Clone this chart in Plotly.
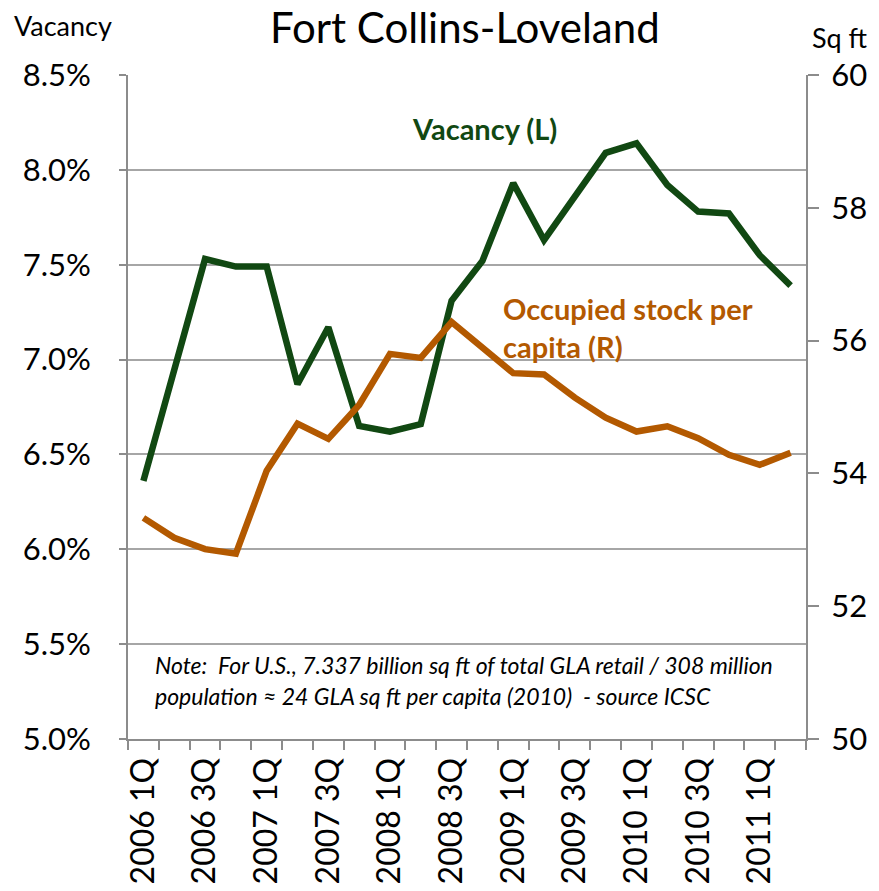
import plotly.graph_objects as go

quarters = ["2006 1Q", "2006 2Q", "2006 3Q", "2006 4Q",
            "2007 1Q", "2007 2Q", "2007 3Q", "2007 4Q",
            "2008 1Q", "2008 2Q", "2008 3Q", "2008 4Q",
            "2009 1Q", "2009 2Q", "2009 3Q", "2009 4Q",
            "2010 1Q", "2010 2Q", "2010 3Q", "2010 4Q",
            "2011 1Q", "2011 2Q"]

vacancy_pct = [6.36, 6.93, 7.53, 7.49, 7.49, 6.87, 7.17, 6.65, 6.62, 6.66, 7.31,
               7.52, 7.93, 7.63, 7.86, 8.09, 8.14, 7.92, 7.78, 7.77, 7.55, 7.39]

sqft_per_capita = [53.33, 53.03, 52.86, 52.79, 54.04, 54.75, 54.52, 55.03, 55.80,
                   55.74, 56.28, 55.90, 55.51, 55.49, 55.14, 54.84, 54.63, 54.71,
                   54.53, 54.28, 54.13, 54.31]

left_ticks = [5.0, 5.5, 6.0, 6.5, 7.0, 7.5, 8.0, 8.5]
right_ticks = [50, 52, 54, 56, 58, 60]

x_pos = list(range(len(quarters)))

GREEN = "#114812"
ORANGE = "#b35900"
GRID = "#a6a6a6"
AXIS = "#8c8c8c"
FONT = "Lato"

# page body has an 8px default margin; size the figure to fit the window
W, H = 863, 875
OFF = 8

fig = go.Figure()
fig.add_trace(go.Scatter(x=x_pos, y=vacancy_pct, mode="lines", name="Vacancy (L)",
                         line=dict(color=GREEN, width=6.5), yaxis="y"))
fig.add_trace(go.Scatter(x=x_pos, y=sqft_per_capita, mode="lines",
                         name="Occupied stock per capita (R)",
                         line=dict(color=ORANGE, width=6.5), yaxis="y2"))

fig.update_layout(
    width=W, height=H,
    margin=dict(l=128 - OFF, r=W - (806 - OFF), t=75 - OFF, b=H - (739 - OFF),
                autoexpand=False),
    paper_bgcolor="white", plot_bgcolor="white",
    showlegend=False,
    font=dict(family=FONT, color="black"),
    xaxis=dict(
        range=[-0.5, len(quarters) - 0.5],
        tickmode="array", tickvals=x_pos[::2], ticktext=quarters[::2],
        tickangle=-90, ticks="", showgrid=False,
        showline=True, linecolor=AXIS, linewidth=2,
        ticklabelstandoff=4,
        tickfont=dict(family=FONT, size=32, color="black"),
        minor=dict(tickmode="linear", tick0=-0.5, dtick=1, ticks="outside",
                   ticklen=9, tickwidth=1.5, tickcolor=AXIS, showgrid=False),
        zeroline=False, automargin=False,
    ),
    yaxis=dict(
        range=[5.0, 8.5], tickmode="array", tickvals=left_ticks,
        ticktext=[f"{v:.1f}%" for v in left_ticks],
        showgrid=True, gridcolor=GRID, gridwidth=1.5,
        showline=True, linecolor=AXIS, linewidth=2,
        ticks="outside", ticklen=7, tickcolor=AXIS, tickwidth=1.5,
        ticklabelstandoff=22,
        tickfont=dict(family=FONT, size=31, color="black"),
        zeroline=False, automargin=False,
    ),
    yaxis2=dict(
        range=[50, 60], tickmode="array", tickvals=right_ticks,
        overlaying="y", side="right", showgrid=False,
        showline=True, linecolor=AXIS, linewidth=2,
        ticks="outside", ticklen=11, tickcolor=AXIS, tickwidth=1.5,
        ticklabelstandoff=6,
        tickfont=dict(family=FONT, size=31, color="black"),
        zeroline=False, automargin=False,
    ),
)

annotations = [
    dict(text="Fort Collins-Loveland", x=(465 - 128) / 678, y=(739 - 27) / 664,
         xref="paper", yref="paper", showarrow=False, xanchor="center", yanchor="middle",
         font=dict(family=FONT, size=42, color="black")),
    dict(text="Vacancy", x=(63 - 128) / 678, y=(739 - 26) / 664, xref="paper", yref="paper",
         showarrow=False, xanchor="center", yanchor="middle",
         font=dict(family=FONT, size=27, color="black")),
    dict(text="Sq ft", x=(840 - 128) / 678, y=(739 - 38) / 664, xref="paper", yref="paper",
         showarrow=False, xanchor="center", yanchor="middle",
         font=dict(family=FONT, size=27, color="black")),
    dict(text="<b>Vacancy (L)</b>", x=(484 - 128) / 678, y=(739 - 128) / 664,
         xref="paper", yref="paper", showarrow=False, xanchor="center", yanchor="middle",
         font=dict(family=FONT, size=29, color=GREEN)),
    dict(text="<b>Occupied stock per</b>", x=(501 - 128) / 678, y=(739 - 308) / 664,
         xref="paper", yref="paper", showarrow=False, xanchor="left", yanchor="middle",
         font=dict(family=FONT, size=29, color=ORANGE)),
    dict(text="<b>capita (R)</b>", x=(501 - 128) / 678, y=(739 - 346) / 664,
         xref="paper", yref="paper", showarrow=False, xanchor="left", yanchor="middle",
         font=dict(family=FONT, size=29, color=ORANGE)),
    dict(text="<i>Note:  For U.S., 7.337 billion sq ft of total GLA retail / 308 million</i>",
         x=(153 - 128) / 678, y=(739 - 665) / 664, xref="paper", yref="paper",
         showarrow=False, xanchor="left", yanchor="middle",
         font=dict(family=FONT, size=23, color="black")),
    dict(text="<i>population \u2248 24 GLA sq ft per capita (2010)  - source ICSC</i>",
         x=(153 - 128) / 678, y=(739 - 696) / 664, xref="paper", yref="paper",
         showarrow=False, xanchor="left", yanchor="middle",
         font=dict(family=FONT, size=23, color="black")),
]
fig.update_layout(annotations=annotations)

fig.write_html("out.html")
